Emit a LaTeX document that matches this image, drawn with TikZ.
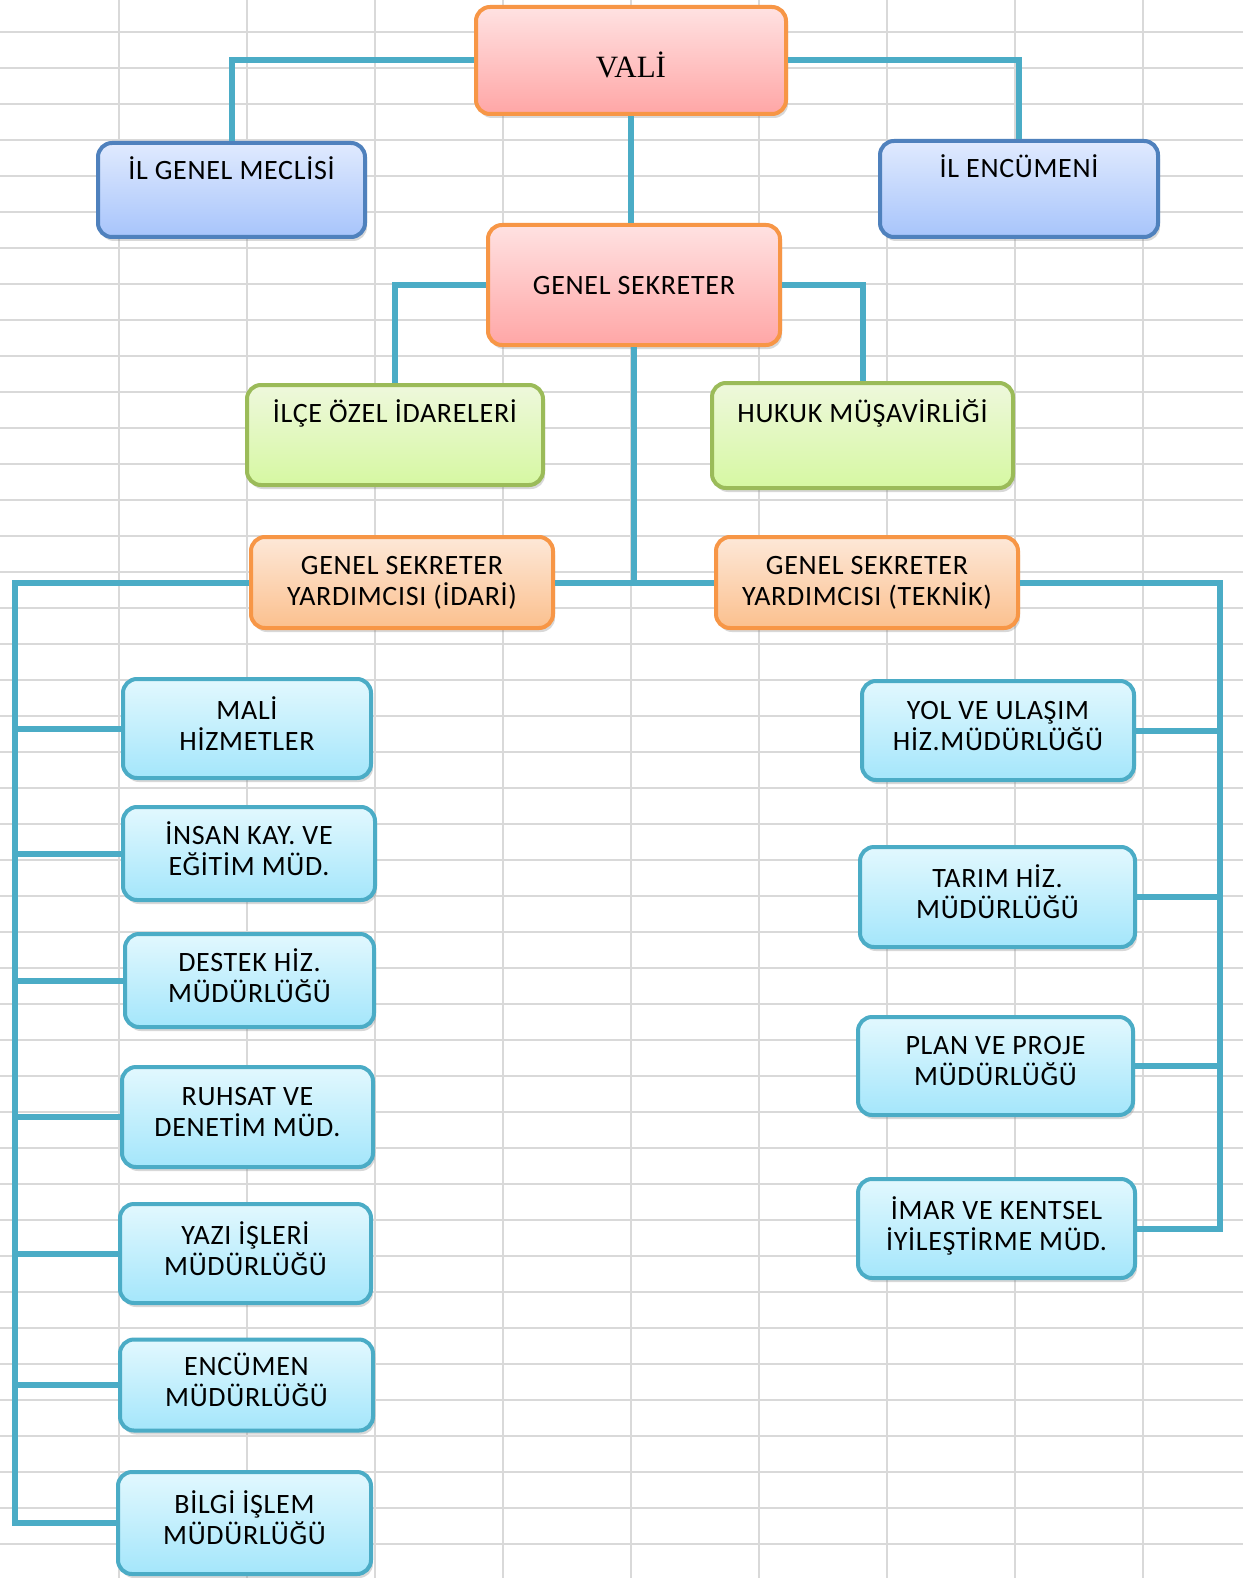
\documentclass[tikz,border=0pt]{standalone}
\usepackage{fontspec}
\setmainfont{Carlito}[LetterSpace=2.5]
\newfontfamily\valifont{Liberation Serif}
\usetikzlibrary{shadows}
\definecolor{hatrenk}{HTML}{4BACC6}
\definecolor{izgararenk}{HTML}{D9D9D9}
\definecolor{turuncu}{HTML}{F79646}
\definecolor{pembeust}{HTML}{FFE2E2}
\definecolor{pembealt}{HTML}{FFA6A6}
\definecolor{maviust}{HTML}{E0EAFE}
\definecolor{mavialt}{HTML}{A7C4FB}
\definecolor{mavicerceve}{HTML}{4F81BD}
\definecolor{yesilust}{HTML}{EEF8DC}
\definecolor{yesilalt}{HTML}{D6F8A2}
\definecolor{yesilcerceve}{HTML}{9BBB59}
\definecolor{portust}{HTML}{FDE8D8}
\definecolor{portalt}{HTML}{FBC08E}
\definecolor{cyanust}{HTML}{E2F8FE}
\definecolor{cyanalt}{HTML}{A4E6FB}
\tikzset{
  kutu/.style={rounded corners=14pt, line width=4pt, align=center, inner sep=0pt,
    font=\fontsize{28}{31}\selectfont,
    drop shadow={opacity=0.3, shadow xshift=2pt, shadow yshift=-4pt}},
  tek/.style={text height=20pt, text depth=0pt},
  pembe/.style={kutu, draw=turuncu, top color=pembeust, bottom color=pembealt},
  mavi/.style={kutu, draw=mavicerceve, top color=maviust, bottom color=mavialt},
  yesil/.style={kutu, draw=yesilcerceve, top color=yesilust, bottom color=yesilalt},
  portakal/.style={kutu, draw=turuncu, top color=portust, bottom color=portalt},
  mudurluk/.style={kutu, draw=hatrenk, top color=cyanust, bottom color=cyanalt, text depth=10pt},
  hat/.style={draw=hatrenk, line width=6pt},
  izgara/.style={draw=izgararenk, line width=1.8pt}
}
\begin{document}
\begin{tikzpicture}[x=1pt,y=-1pt]
	\useasboundingbox (0,0) rectangle (1243,1578);
	\fill[white] (0,0) rectangle (1243,1578);
	% sheet grid
	\foreach \gx in {119,247,...,1143} \draw[izgara] (\gx,0) -- (\gx,1578);
	\foreach \gy in {32,68,...,1544} \draw[izgara] (0,\gy) -- (1243,\gy);
	% top
	\node[pembe, minimum width=310pt, minimum height=107pt, text height=35pt, text depth=0pt] (vali) at (631,60.5) {\valifont\fontsize{31}{31}\selectfont VALİ};
	\node[mavi, minimum width=267pt, minimum height=94pt, text height=20pt, text depth=40pt] (meclis) at (231.5,190) {İL GENEL MECLİSİ};
	\node[mavi, minimum width=278pt, minimum height=96pt, text height=20pt, text depth=42pt] (encumen) at (1019,189) {İL ENCÜMENİ};
	\node[pembe, tek, minimum width=292pt, minimum height=120pt] (gensek) at (634,285) {GENEL SEKRETER};
	\node[yesil, minimum width=296pt, minimum height=100pt, text height=20pt, text depth=46pt] (ilce) at (395,435) {İLÇE ÖZEL İDARELERİ};
	\node[yesil, minimum width=301pt, minimum height=105pt, text height=20pt, text depth=46pt] (hukuk) at (862.5,435.5) {HUKUK MÜŞAVİRLİĞİ};
	\node[portakal, minimum width=302pt, minimum height=91pt] (idari) at (402,582.5) {GENEL SEKRETER\\YARDIMCISI (İDARİ)};
	\node[portakal, minimum width=302pt, minimum height=91pt] (teknik) at (867,582.5) {GENEL SEKRETER\\YARDIMCISI (TEKNİK)};
	% left column
	\node[mudurluk, minimum width=248pt, minimum height=99pt] (mali) at (247,728.5) {MALİ\\HİZMETLER};
	\node[mudurluk, minimum width=252pt, minimum height=93pt] (insan) at (249,853.5) {İNSAN KAY. VE\\EĞİTİM MÜD.};
	\node[mudurluk, minimum width=249pt, minimum height=93pt] (destek) at (249.5,980.5) {DESTEK HİZ.\\MÜDÜRLÜĞÜ};
	\node[mudurluk, minimum width=251pt, minimum height=100pt] (ruhsat) at (247.5,1117) {RUHSAT VE\\DENETİM MÜD.};
	\node[mudurluk, minimum width=251pt, minimum height=99pt] (yazi) at (245.5,1253.5) {YAZI İŞLERİ\\MÜDÜRLÜĞÜ};
	\node[mudurluk, minimum width=253pt, minimum height=91pt] (encmud) at (246.5,1385) {ENCÜMEN\\MÜDÜRLÜĞÜ};
	\node[mudurluk, minimum width=253pt, minimum height=102pt] (bilgi) at (244.5,1523) {BİLGİ İŞLEM\\MÜDÜRLÜĞÜ};
	% right column
	\node[mudurluk, minimum width=272pt, minimum height=99pt] (yol) at (998,730.5) {YOL VE ULAŞIM\\HİZ.MÜDÜRLÜĞÜ};
	\node[mudurluk, minimum width=275pt, minimum height=100pt] (tarim) at (997.5,897) {TARIM HİZ.\\MÜDÜRLÜĞÜ};
	\node[mudurluk, minimum width=275pt, minimum height=98pt] (plan) at (995.5,1066) {PLAN VE PROJE\\MÜDÜRLÜĞÜ};
	\node[mudurluk, minimum width=277pt, minimum height=99pt] (imar) at (996.5,1228.5) {İMAR VE KENTSEL\\İYİLEŞTİRME MÜD.};
	% connectors
	\coordinate (lx) at (15,0);
	\coordinate (rx) at (1220,0);
	\draw[hat] (vali.west) -| (meclis.north);
	\draw[hat] (vali.east) -| (encumen.north);
	\draw[hat] (vali.south) -- (vali.south |- gensek.north);
	\draw[hat] (gensek.west) -| (ilce.north);
	\draw[hat] (gensek.east) -| (hukuk.north);
	\draw[hat] (gensek.south) -- (gensek.south |- idari.east);
	\draw[hat] (idari.east) -- (teknik.west);
	\draw[hat] (idari.west) -| (lx |- bilgi.west) -- (bilgi.west);
	\foreach \k in {mali,insan,destek,ruhsat,yazi,encmud}
		\draw[hat] (\k.west) -- (\k.west -| lx);
	\draw[hat] (teknik.east) -| (rx |- imar.east) -- (imar.east);
	\foreach \k in {yol,tarim,plan}
		\draw[hat] (\k.east) -- (\k.east -| rx);
\end{tikzpicture}
\end{document}
